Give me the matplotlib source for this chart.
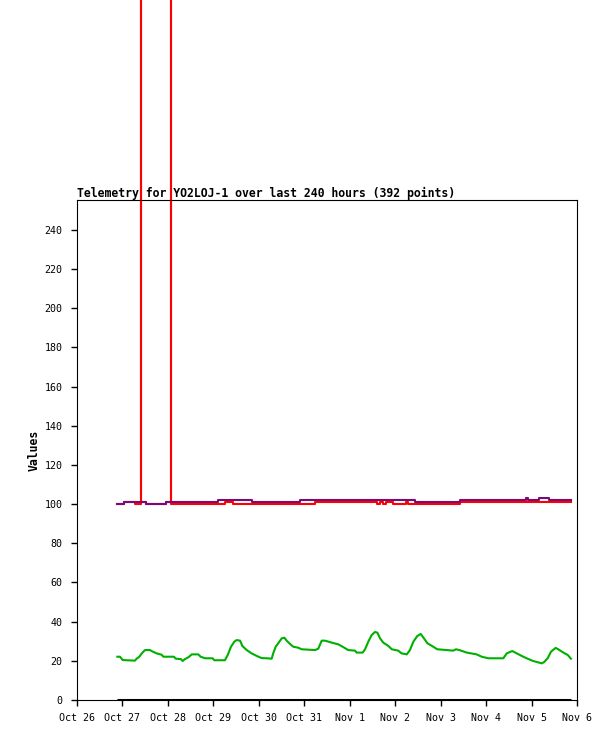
import matplotlib
matplotlib.use('Agg')
from matplotlib import pyplot as plt
import matplotlib.dates as mdates
import pandas as pd

# hours since Oct 26 00:00
start = pd.Timestamp('2023-10-26')

green_hours = [21.3, 22.7, 24.1, 30.6, 31.5, 32.9, 34.2, 35.9, 38.5, 40.0, 42.1, 44.7,
               45.6, 51.2, 52.1, 54.8, 55.8, 57.0, 58.8, 60.6, 64.0, 65.3, 67.6, 71.6,
               72.5, 78.1, 79.6, 81.3, 83.1, 84.3, 86.1, 87.3, 89.6, 92.2, 94.9, 97.5,
               100.2, 102.8, 103.6, 104.9, 106.3, 108.1, 109.5, 110.7, 112.5, 114.2,
               116.8, 118.6, 125.7, 127.4, 129.2, 130.9, 134.5, 138.0, 140.6, 143.2,
               146.8, 147.7, 150.8, 152.1, 153.8, 155.6, 157.3, 158.6, 160.0, 161.7,
               164.4, 166.2, 169.6, 171.4, 174.1, 175.8, 177.6, 179.7, 181.5, 182.8,
               185.0, 188.1, 190.2, 195.2, 198.7, 200.1, 202.2, 205.8, 211.0, 213.7,
               217.2, 225.1, 226.9, 229.8, 232.2, 234.8, 237.4, 240.9, 245.4, 246.7,
               248.5, 250.3, 252.7, 254.1, 256.8, 259.1, 260.8]
green_values = [22.1, 22.1, 20.4, 20.1, 21.1, 22.1, 23.8, 25.5, 25.5, 24.7, 23.8, 23.1,
                22.1, 22.1, 21.1, 20.9, 19.9, 20.9, 21.8, 23.3, 23.3, 22.1, 21.3, 21.3,
                20.3, 20.3, 23.0, 27.2, 29.8, 30.6, 30.3, 27.6, 25.5, 23.8, 22.5, 21.4,
                21.3, 21.1, 23.8, 27.2, 29.0, 31.5, 31.8, 30.3, 28.6, 27.2,
                26.7, 25.9, 25.5, 26.2, 30.3, 30.3, 29.3, 28.4, 27.0, 25.5,
                25.2, 24.2, 24.2, 25.9, 29.8, 33.2, 34.7, 34.4, 31.5, 29.3,
                27.6, 25.9, 25.2, 23.8, 23.3, 25.5, 29.8, 32.7, 33.7, 32.0,
                29.0, 27.2, 25.9, 25.5, 25.2, 25.9, 25.4, 24.2, 23.3, 22.1,
                21.3, 21.3, 23.8, 25.0, 23.8, 22.5, 21.3, 19.9, 18.7, 19.4,
                21.3, 24.7, 26.6, 25.9, 24.2, 23.0, 21.1]

purple_hours = [21.3, 24.8, 36.4, 47.0, 74.4, 92.4, 117.7, 178.5, 202.2, 237.3, 237.9,
                243.9, 249.2, 260.8]
purple_values = [100, 101, 100, 101, 102, 101, 102, 101, 102, 103, 102, 103, 102, 102]

red_hours = [21.3, 24.8, 30.6, 33.6, 33.9, 36.4, 47.0, 49.4, 49.7, 78.1, 82.4, 125.7,
             158.4, 160.0, 161.6, 163.2, 166.8, 173.7, 174.8, 202.2, 260.8]
red_values = [100, 101, 100, 1500, 101, 100, 101, 1500, 100, 101, 100, 101,
              100, 101, 100, 101, 100, 101, 100, 101, 101]

black_hours = [21.3, 260.8]
black_values = [0, 0]

def to_time(hours):
    return start + pd.to_timedelta(hours, unit='h')

mono = 'DejaVu Sans Mono'
fig = plt.figure(figsize=(6.15, 7.41), dpi=100)
ax = fig.add_axes([77/615., 1 - 700/741., 500/615., 500/741.])

ax.plot(to_time(black_hours), black_values, color='black', lw=2.2, solid_capstyle='butt')
ax.plot(to_time(green_hours), green_values, color='#00b000', lw=1.5)
ax.plot(to_time(red_hours), red_values, color='#ff0000', lw=1.5,
        drawstyle='steps-post', clip_on=False)
ax.plot(to_time(purple_hours), purple_values, color='#7a0a7a', lw=1.5,
        drawstyle='steps-post')

ax.set_xlim(start, start + pd.Timedelta(days=11))
ax.set_ylim(0, 255.3)
ax.set_yticks(range(0, 241, 20))
ax.xaxis.set_major_locator(mdates.DayLocator())
ax.xaxis.set_major_formatter(mdates.DateFormatter('%b %-d'))

ax.tick_params(direction='out', length=4, width=1, labelsize=7.2)
ax.tick_params(axis='x', pad=5.5)
ax.tick_params(axis='y', pad=6.5)
for lab in ax.get_xticklabels() + ax.get_yticklabels():
    lab.set_family(mono)
for s in ax.spines.values():
    s.set_linewidth(0.8)

ax.set_title('Telemetry for YO2LOJ-1 over last 240 hours (392 points)', loc='left',
             fontsize=8.3, family=mono, fontweight='bold', pad=2.5)
ax.set_ylabel('Values', fontsize=8.3, family=mono, fontweight='bold', labelpad=3)

fig.savefig('out.png', dpi=100)
